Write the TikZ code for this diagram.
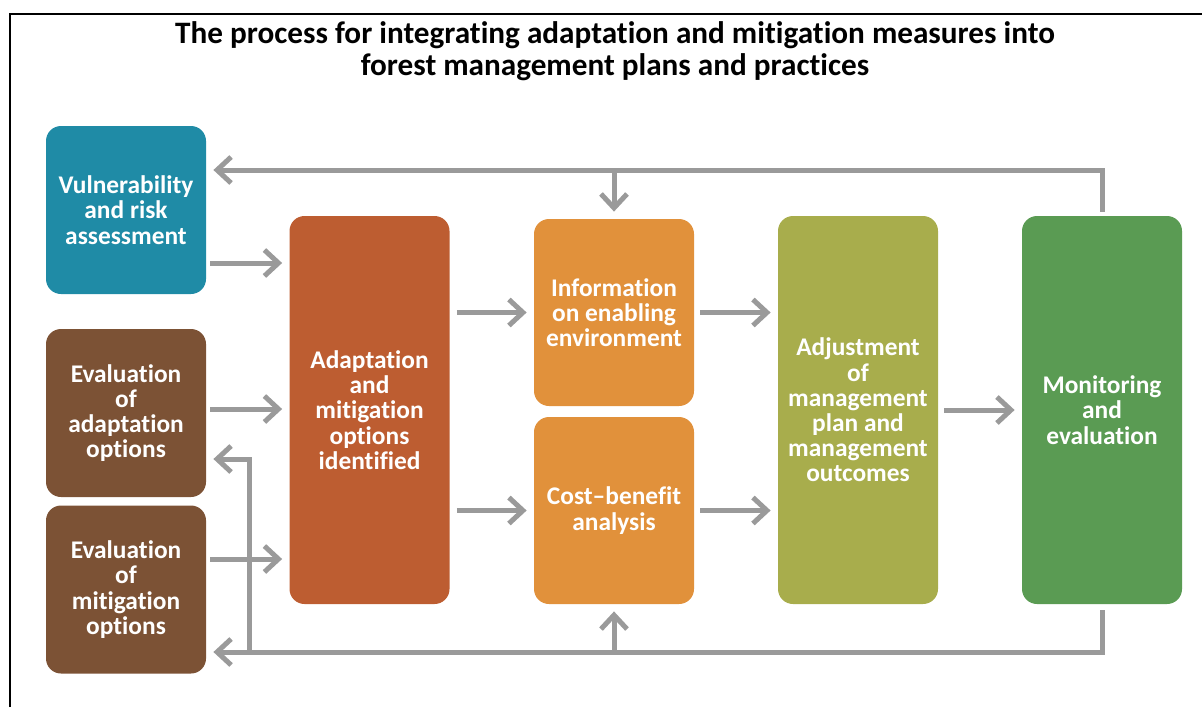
\documentclass[tikz,border=0pt]{standalone}
\usepackage{fontspec}
\setmainfont{Carlito}[Ligatures=NoCommon]
\usetikzlibrary{arrows.meta}

\definecolor{vulnblue}{HTML}{1F8BA6}
\definecolor{evalbrown}{HTML}{7C5235}
\definecolor{optred}{HTML}{BD5D31}
\definecolor{infoorange}{HTML}{E1913B}
\definecolor{adjolive}{HTML}{A8AD4C}
\definecolor{mongreen}{HTML}{5A9B53}
\definecolor{arrowgray}{HTML}{9A9A9A}

\begin{document}
\begin{tikzpicture}[x=0.5pt, y=-0.5pt,
    box/.style={rounded corners=7.5pt, minimum width=80pt, inner sep=0pt,
        text=white, align=center, font=\fontsize{12.7}{12.6}\selectfont\bfseries},
    small/.style={box, minimum height=84pt},
    mid/.style={box, minimum height=93.5pt},
    tall/.style={box, minimum height=194pt},
    link/.style={draw=arrowgray, line width=2.5pt},
    arr/.style={link, -{Straight Barb[length=7pt, width=13pt]}}]
    \useasboundingbox (0,0) rectangle (1202,707);

    % frame
    \draw[line width=1.3pt] (10,707) -- (10,14) -- (1202,14);

    \node[align=center, font=\fontsize{15.6}{16}\selectfont\bfseries] (title) at (615,51)
        {The process for integrating adaptation and mitigation measures into\\forest management plans and practices};

    % left column
    \node[small, fill=vulnblue] (vuln) at (126,210) {Vulnerability\\and risk\\assessment};
    \node[small, fill=evalbrown] (eadapt) at (126,413) {Evaluation\\of\\adaptation\\options};
    \node[small, fill=evalbrown] (emitig) at (126,589.5) {Evaluation\\of\\mitigation\\options};

    % main chain
    \node[tall, fill=optred] (options) at (369.5,410) {Adaptation\\and\\mitigation\\options\\identified};
    \node[mid, fill=infoorange] (info) at (614,312.5) {Information\\on enabling\\environment};
    \node[mid, fill=infoorange] (cost) at (614,510.5) {Cost--benefit\\analysis};
    \node[tall, fill=adjolive] (adjust) at (858,410) {Adjustment\\of\\management\\plan and\\management\\outcomes};
    \node[tall, fill=mongreen] (monit) at (1102,410) {Monitoring\\and\\evaluation};

    \coordinate (r1) at ([yshift=-26.5pt]vuln.east);
    \coordinate (r2) at ([yshift=2pt]eadapt.east);
    \coordinate (r3) at ([yshift=15.25pt]emitig.east);
    \coordinate (fbtop) at ([yshift=20pt]vuln.east);
    \coordinate (fbbot) at ([yshift=-31.25pt]emitig.east);
    \coordinate (back) at ([yshift=-23pt]eadapt.east);
    \coordinate (split) at (249,0 |- fbbot);

    \draw[arr] ([xshift=2pt]r1) -- ([xshift=-3.5pt]options.west |- r1);
    \draw[arr] ([xshift=2pt]r2) -- ([xshift=-3.5pt]options.west |- r2);
    \draw[arr] ([xshift=2pt]r3) -- ([xshift=-3.5pt]options.west |- r3);

    \draw[arr] ([xshift=3.5pt]options.east |- info.west) -- ([xshift=-3.5pt]info.west);
    \draw[arr] ([xshift=3.5pt]options.east |- cost.west) -- ([xshift=-3.5pt]cost.west);
    \draw[arr] ([xshift=3pt]info.east) -- ([xshift=-3.5pt]adjust.west |- info.east);
    \draw[arr] ([xshift=3pt]cost.east) -- ([xshift=-3.5pt]adjust.west |- cost.east);
    \draw[arr] ([xshift=3pt]adjust.east) -- ([xshift=-3.5pt]monit.west);

    % feedback loops
    \draw[arr] ([yshift=2pt]monit.north) |- ([xshift=3.5pt]fbtop);
    \draw[arr] (info.north |- fbtop) -- ([yshift=3.5pt]info.north);
    \draw[arr] ([yshift=-3pt]monit.south) |- ([xshift=3.5pt]fbbot);
    \draw[arr] (cost.south |- fbbot) -- ([yshift=-3.5pt]cost.south);
    \draw[arr] (split) |- ([xshift=3.5pt]back);
\end{tikzpicture}
\end{document}
